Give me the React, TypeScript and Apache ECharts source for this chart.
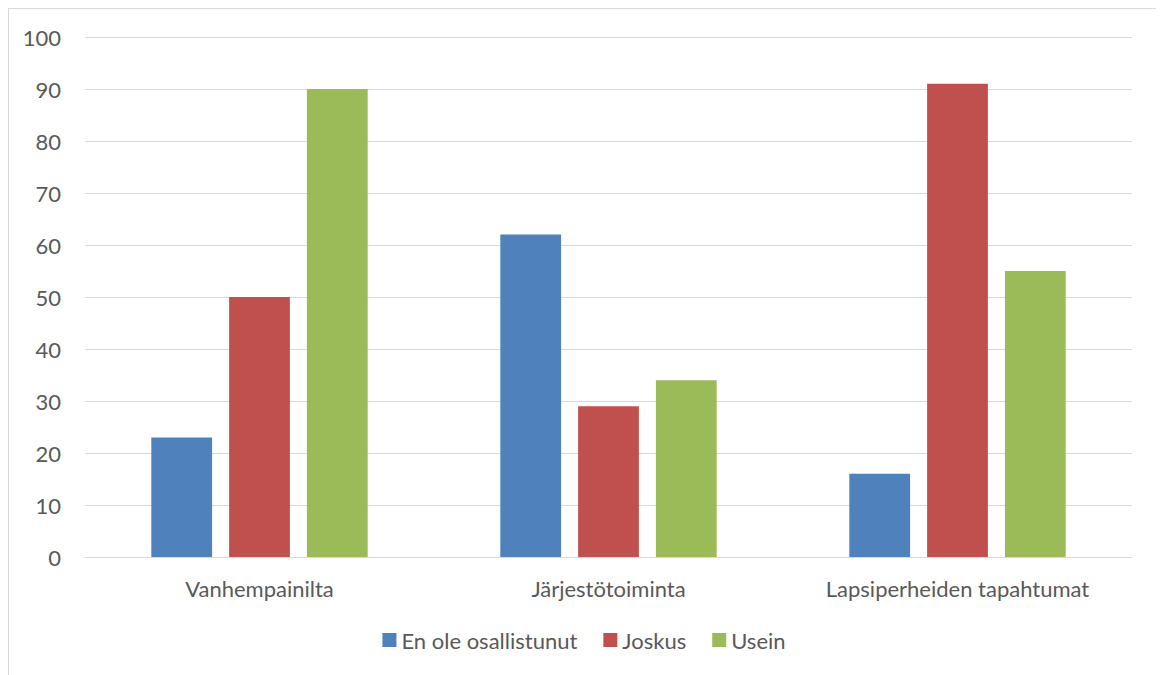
import React, { useEffect, useRef } from "react";
import * as echarts from "echarts";

const categories = ["Vanhempainilta", "Järjestötoiminta", "Lapsiperheiden tapahtumat"];
const seriesNames = ["En ole osallistunut", "Joskus", "Usein"];
const enOle = [23, 62, 16];
const joskus = [50, 29, 91];
const usein = [90, 34, 55];
const colors = ["#4f81bd", "#c0504d", "#9bbb59"];

const FONT = "Lato, 'Open Sans', sans-serif";
const TXT = "#595959";

export default function App() {
  const ref = useRef<HTMLDivElement>(null);
  useEffect(() => {
    if (!ref.current) return;
    const chart = echarts.init(ref.current, null, { renderer: "svg" });
    const values = [enOle, joskus, usein];
    chart.setOption({
      animation: false,
      grid: { left: 76, right: 27, top: 28, height: 520 },
      legend: {
        top: 615,
        left: "center",
        itemWidth: 14,
        itemHeight: 14,
        itemGap: 26,
        icon: "rect",
        textStyle: { color: TXT, fontSize: 22, fontFamily: FONT },
        data: seriesNames,
      },
      xAxis: {
        type: "category",
        data: categories,
        axisLine: { lineStyle: { color: "#d9d9d9", width: 1 } },
        axisTick: { show: false },
        axisLabel: { color: TXT, fontSize: 22, fontFamily: FONT, margin: 20 },
      },
      yAxis: {
        type: "value",
        min: 0,
        max: 100,
        interval: 10,
        axisLine: { show: false },
        axisTick: { show: false },
        splitLine: { lineStyle: { color: "#d9d9d9", width: 1 } },
        axisLabel: { color: TXT, fontSize: 22, fontFamily: FONT, margin: 24 },
      },
      series: seriesNames.map((name, i) => ({
        name,
        type: "bar",
        data: values[i],
        barGap: "28%",
        barCategoryGap: "38%",
        itemStyle: { color: colors[i] },
      })),
    });
    return () => chart.dispose();
  }, []);
  return (
    <div
      style={{
        width: 1152,
        height: 670,
        border: "1px solid #d9d9d9",
        boxSizing: "border-box",
        background: "#fff",
      }}
    >
      <div ref={ref} style={{ width: 1150, height: 668 }} />
    </div>
  );
}
